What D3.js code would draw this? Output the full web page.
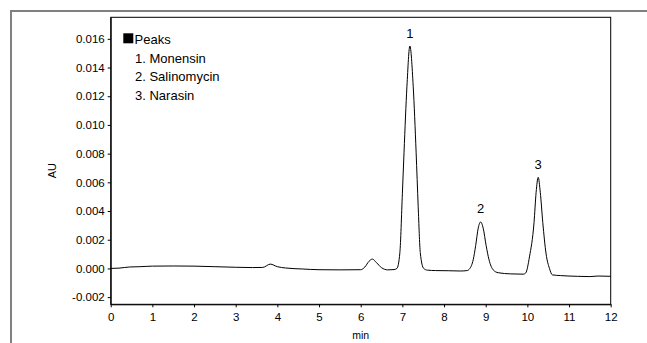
<!DOCTYPE html>
<html>
<head>
<meta charset="utf-8">
<script src="https://cdn.jsdelivr.net/npm/d3@7"></script>
<style>
  body { margin: 0; background: #fff; }
  text { font-family: "Liberation Sans", Arial, sans-serif; fill: #000; }
</style>
</head>
<body>
<div id="chart"></div>
<script>
/* Chromatogram: Monensin, Salinomycin, Narasin */

// retention time (min) and absorbance (AU)
const time = [0.00, 0.20, 0.45, 0.70, 1.00, 1.50, 2.00, 2.50, 3.00, 3.40, 3.65, 3.83, 4.00, 4.20, 4.60,
    5.00, 5.50, 6.00, 6.10, 6.20, 6.28, 6.38, 6.50, 6.65, 6.80,
    6.87, 6.94, 7.00, 7.04, 7.11, 7.18, 7.26, 7.33, 7.38, 7.43, 7.51, 7.60, 7.80, 8.10, 8.40,
    8.55, 8.62, 8.70, 8.76, 8.82, 8.88, 8.94, 9.01, 9.08, 9.18, 9.30, 9.60, 9.90,
    9.96, 10.05, 10.16, 10.21, 10.26, 10.31, 10.37, 10.45, 10.53, 10.60, 10.80, 11.20, 11.50, 11.70, 12.00];

const absorbance = [0.00000, 0.00002, 0.00010, 0.00012, 0.00016, 0.00017, 0.00016, 0.00012, 0.00008, 0.00006, 0.00007, 0.00030, 0.00012, 0.00003, -0.00004,
    -0.00009, -0.00010, -0.00009, 0.00010, 0.00050, 0.00065, 0.00040, 0.00005, -0.00010, -0.00008,
    0.00000, 0.00110, 0.00520, 0.00810, 0.01270, 0.01550, 0.01270, 0.00810, 0.00430, 0.00110, 0.00000, -0.00012, -0.00015, -0.00016, -0.00018,
    -0.00015, 0.00000, 0.00060, 0.00160, 0.00280, 0.00324, 0.00280, 0.00160, 0.00060, -0.00010, -0.00030, -0.00038, -0.00040,
    -0.00032, 0.00080, 0.00320, 0.00530, 0.00635, 0.00530, 0.00320, 0.00100, 0.00000, -0.00045, -0.00050, -0.00055, -0.00057, -0.00053, -0.00055];

const yTicks = [-0.002, 0.000, 0.002, 0.004, 0.006, 0.008, 0.010, 0.012, 0.014, 0.016];
const xTicks = [0, 1, 2, 3, 4, 5, 6, 7, 8, 9, 10, 11, 12];

const peakLabels = ["1", "2", "3"];
const peakTimes = [7.18, 8.88, 10.26];
const peakHeights = [0.01550, 0.00324, 0.00635];

const legendTitle = "Peaks";
const legendItems = ["1. Monensin", "2. Salinomycin", "3. Narasin"];

const height = 343,
    width = 647,
    margin = ({top: 17.3, right: 36.3, bottom: 38.7, left: 110.7});

let svg = d3.select("#chart")
    .append("svg")
    .attr("width", width)
    .attr("height", height);

// outer gray frame (top and left only)
svg.append("path")
    .attr("d", `M11,${height} L11,11 L${width},11`)
    .attr("fill", "none")
    .attr("stroke", "#808080")
    .attr("stroke-width", 2);

let x = d3.scaleLinear()
    .domain([0, 12])
    .range([margin.left, width - margin.right]);

let y = d3.scaleLinear()
    .domain([-0.0025, 0.0175])
    .range([height - margin.bottom, margin.top]);

// plot box
svg.append("rect")
    .attr("x", x(0))
    .attr("y", y(0.0175))
    .attr("width", x(12) - x(0))
    .attr("height", y(-0.0025) - y(0.0175))
    .attr("fill", "none")
    .attr("stroke", "#000")
    .attr("stroke-width", 1);

const fmtY = d => d3.format(".3f")(d).replace("\u2212", "-");   // plain hyphen like the original

const xAxis = g => g
    .attr("transform", `translate(0,${height - margin.bottom})`)
    .call(d3.axisBottom(x).tickValues(xTicks).tickFormat(d3.format("d")).tickSize(3).tickSizeOuter(0).tickPadding(6));

const yAxis = g => g
    .attr("transform", `translate(${margin.left},0)`)
    .call(d3.axisLeft(y).tickValues(yTicks).tickFormat(fmtY).tickSize(3).tickSizeOuter(0).tickPadding(3));

svg.append("g").call(xAxis);
svg.append("g").call(yAxis);

svg.selectAll(".domain").attr("stroke", "#000");
svg.selectAll(".tick line").attr("stroke", "#000");
svg.selectAll(".tick text")
    .attr("font-size", "11.5px")
    .attr("font-family", "Liberation Sans, Arial, sans-serif")
    .attr("fill", "#000");

// axis titles
svg.append("text")
    .attr("x", (x(0) + x(12)) / 2)
    .attr("y", 338.5)
    .attr("text-anchor", "middle")
    .attr("font-size", "10.5px")
    .text("min");

svg.append("text")
    .attr("transform", "translate(52.3,170.7) rotate(-90)")
    .attr("text-anchor", "middle")
    .attr("dominant-baseline", "central")
    .attr("font-size", "11px")
    .text("AU");

// trace
const points = time.map((t, i) => [t, absorbance[i]]);

svg.append("path")
    .datum(points)
    .attr("fill", "none")
    .attr("stroke", "#000")
    .attr("stroke-width", 1)
    .attr("d", d3.line()
        .x(d => x(d[0]))
        .y(d => y(d[1]))
        .curve(d3.curveMonotoneX));

// peak numbers
svg.selectAll(".peak-label")
    .data(peakLabels)
    .join("text")
    .attr("class", "peak-label")
    .attr("x", (d, i) => x(peakTimes[i]))
    .attr("y", (d, i) => y(peakHeights[i]) - 8.5)
    .attr("text-anchor", "middle")
    .attr("font-size", "13px")
    .text(d => d);

// legend
svg.append("rect")
    .attr("x", 123.3)
    .attr("y", 33.3)
    .attr("width", 10)
    .attr("height", 10)
    .attr("fill", "#000");

svg.append("text")
    .attr("x", 134.5)
    .attr("y", 43.5)
    .attr("font-size", "13px")
    .text(legendTitle);

svg.selectAll(".legend-item")
    .data(legendItems)
    .join("text")
    .attr("class", "legend-item")
    .attr("x", 135)
    .attr("y", (d, i) => 62.5 + i * 18.6)
    .attr("font-size", "13px")
    .text(d => d);
</script>
</body>
</html>
